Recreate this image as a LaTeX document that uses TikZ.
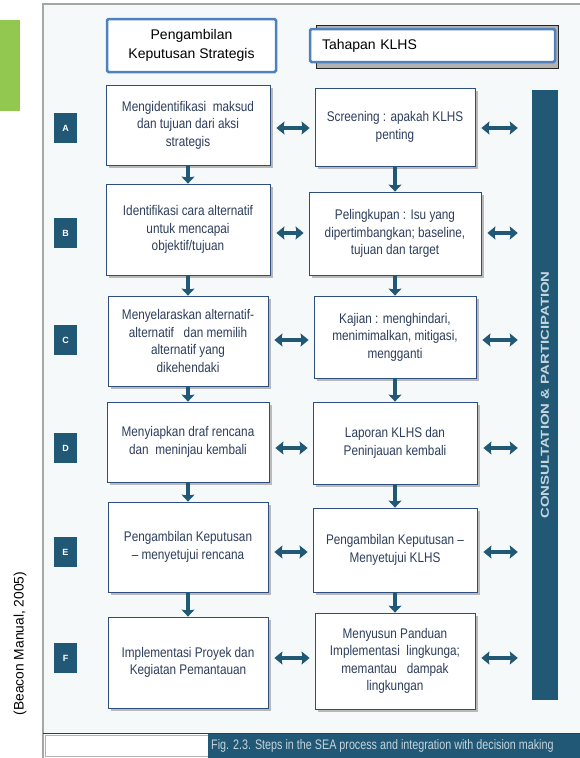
\documentclass[tikz,border=0pt]{standalone}
\usepackage{fontspec}
\setmainfont{Liberation Sans}
\newfontfamily\boxfont[FakeStretch=0.84]{Liberation Sans}
\newfontfamily\capfont[FakeStretch=0.78]{Liberation Sans}
\newfontfamily\barfont[FakeStretch=1.3]{Liberation Sans}
\usetikzlibrary{calc,shadows,arrows.meta}

\definecolor{seateal}{HTML}{215875}
\definecolor{boxnavy}{HTML}{2F4E80}
\definecolor{boxtext}{HTML}{2D3E5C}
\definecolor{headblue}{HTML}{4F81BD}
\definecolor{leafgreen}{HTML}{92C84F}
\definecolor{panelbg}{HTML}{F6F9FA}
\definecolor{barlabel}{HTML}{C5D5DE}

\tikzset{
  stepbox/.style = {draw = boxnavy, fill = white, line width = 0.8pt, text = boxtext,
    align = center, inner sep = 2pt, font = \boxfont\fontsize{14}{17.5}\selectfont,
    drop shadow = {shadow xshift = 3pt, shadow yshift = -3pt, fill = gray!55, opacity = 1}},
  headbox/.style = {draw = headblue, line width = 2.5pt, rounded corners = 1.5pt, fill = white,
    font = \fontsize{14}{19.5}\selectfont},
  letterbox/.style = {fill = seateal, text = white, font = \bfseries\fontsize{9}{9}\selectfont,
    minimum width = 23pt, minimum height = 30pt, inner sep = 0pt},
  downarrow/.style = {->, > = {Stealth[length = 7pt, width = 13pt, inset = 1pt]},
    line width = 4.5pt, draw = seateal},
  twoway/.style = {<->, > = {Stealth[length = 8pt, width = 13pt, inset = 1pt]},
    line width = 3.5pt, draw = seateal}
}

\begin{document}
\begin{tikzpicture}[x = 1pt, y = -1pt]
\useasboundingbox (0, 0) rectangle (580, 758);

% Backdrop
    \fill[leafgreen] (0, 20) rectangle (20, 111);
    \fill[panelbg] (43, 4) rectangle (580, 733);
    \draw[gray!70, line width = 1.2pt] (43, 758) -- (43, 4) -- (580, 4);
    \fill[gray!60, draw = gray!30!black, line width = 1pt] (316, 25) rectangle (558, 68);

% Headers
    \node[headbox, minimum width = 169pt, minimum height = 53pt, align = center] (hl) at (191.5, 45.5) {Pengambilan\\Keputusan Strategis};
    \node[headbox, minimum height = 33pt, inner xsep = 12pt, text width = 221pt, align = left] (hr) at (432.5, 45.5) {Tahapan KLHS};

% Letters
    \node[letterbox] (sqA) at (65.5, 128) {A};
    \node[letterbox] (sqB) at (65.5, 233) {B};
    \node[letterbox] (sqC) at (65.5, 340) {C};
    \node[letterbox] (sqD) at (65.5, 448) {D};
    \node[letterbox] (sqE) at (65.5, 552) {E};
    \node[letterbox] (sqF) at (65.5, 658) {F};

% Decision steps
    \node[stepbox, minimum width = 164pt, minimum height = 80pt] (la) at (188, 125) {Mengidentifikasi\ \ maksud\\dan tujuan dari aksi\\strategis};
    \node[stepbox, minimum width = 164pt, minimum height = 91pt] (lb) at (188, 229.5) {Identifikasi cara alternatif\\untuk mencapai\\objektif/tujuan};
    \node[stepbox, minimum width = 160pt, minimum height = 90pt] (lc) at (188, 341) {Menyelaraskan alternatif-\\alternatif\ \ \ dan memilih\\alternatif yang\\dikehendaki};
    \node[stepbox, minimum width = 162pt, minimum height = 80pt] (ld) at (188, 442) {Menyiapkan draf rencana\\dan\ \ meninjau kembali};
    \node[stepbox, minimum width = 160pt, minimum height = 90pt] (le) at (188, 547) {Pengambilan Keputusan\\– menyetujui rencana};
    \node[stepbox, minimum width = 160pt, minimum height = 91pt] (lf) at (188, 662.5) {Implementasi Proyek dan\\Kegiatan Pemantauan};

% KLHS steps
    \node[stepbox, minimum width = 160pt, minimum height = 78pt] (ra) at (395, 127) {Screening : apakah KLHS\\penting};
    \node[stepbox, minimum width = 172pt, minimum height = 83pt] (rb) at (395, 233.5) {Pelingkupan : Isu yang\\dipertimbangkan; baseline,\\tujuan dan target};
    \node[stepbox, minimum width = 162pt, minimum height = 82pt] (rc) at (395, 337) {Kajian : menghindari,\\menimimalkan, mitigasi,\\mengganti};
    \node[stepbox, minimum width = 164pt, minimum height = 82pt] (rd) at (395, 443) {Laporan KLHS dan\\Peninjauan kembali};
    \node[stepbox, minimum width = 164pt, minimum height = 84pt] (re) at (395, 550) {Pengambilan Keputusan –\\Menyetujui KLHS};
    \node[stepbox, minimum width = 160pt, minimum height = 96pt] (rf) at (395, 661) {Menyusun Panduan\\Implementasi\ \ lingkunga;\\memantau\ \ \ dampak\\lingkungan};

% Consultation bar
    \node[fill = seateal, minimum width = 26pt, minimum height = 610pt, inner sep = 0pt] (cp) at (545, 395) {};
    \node[rotate = 90, text = barlabel, font = \barfont\bfseries\fontsize{11.5}{11.5}\selectfont] (cptext) at (cp.center) {CONSULTATION \& PARTICIPATION};

% Directions
    \draw[downarrow] (la) -- (lb);
    \draw[downarrow] (lb) -- (lc);
    \draw[downarrow] (lc) -- (ld);
    \draw[downarrow] (ld) -- (le);
    \draw[downarrow] (le) -- (lf);
    \draw[downarrow] (ra) -- (rb);
    \draw[downarrow] (rb) -- (rc);
    \draw[downarrow] (rc) -- (rd);
    \draw[downarrow] (rd) -- (re);
    \draw[downarrow] (re) -- (rf);

% Bidirections
    \draw[twoway, shorten < = 6pt, shorten > = 5pt] (la.east |- sqA) -- (ra.west |- sqA);
    \draw[twoway, shorten < = 6pt, shorten > = 5pt] (lb.east |- sqB) -- (rb.west |- sqB);
    \draw[twoway, shorten < = 6pt, shorten > = 5pt] (lc.east |- sqC) -- (rc.west |- sqC);
    \draw[twoway, shorten < = 6pt, shorten > = 5pt] (ld.east |- sqD) -- (rd.west |- sqD);
    \draw[twoway, shorten < = 6pt, shorten > = 5pt] (le.east |- sqE) -- (re.west |- sqE);
    \draw[twoway, shorten < = 6pt, shorten > = 5pt] (lf.east |- sqF) -- (rf.west |- sqF);
    \draw[twoway, shorten < = 6pt, shorten > = 14pt] (ra.east |- sqA) -- (cp.west |- sqA);
    \draw[twoway, shorten < = 6pt, shorten > = 14pt] (rb.east |- sqB) -- (cp.west |- sqB);
    \draw[twoway, shorten < = 6pt, shorten > = 14pt] (rc.east |- sqC) -- (cp.west |- sqC);
    \draw[twoway, shorten < = 6pt, shorten > = 14pt] (rd.east |- sqD) -- (cp.west |- sqD);
    \draw[twoway, shorten < = 6pt, shorten > = 14pt] (re.east |- sqE) -- (cp.west |- sqE);
    \draw[twoway, shorten < = 6pt, shorten > = 14pt] (rf.east |- sqF) -- (cp.west |- sqF);

% Caption
    \draw[gray!60, fill = white] (45, 735) rectangle (208, 756);
    \fill[seateal] (208, 733) rectangle (580, 758);
    \draw[seateal!80!black, line width = 1pt] (43, 733) -- (580, 733);
    \node[anchor = west, inner xsep = 2pt, text = barlabel, font = \capfont\fontsize{13.8}{13.8}\selectfont] (figcap) at (209, 746) {Fig. 2.3. Steps in the SEA process and integration with decision making};

% Source
    \node[rotate = 90, font = \fontsize{13.8}{13.8}\selectfont] (src) at (20, 643.5) {(Beacon Manual, 2005)};

\end{tikzpicture}
\end{document}
